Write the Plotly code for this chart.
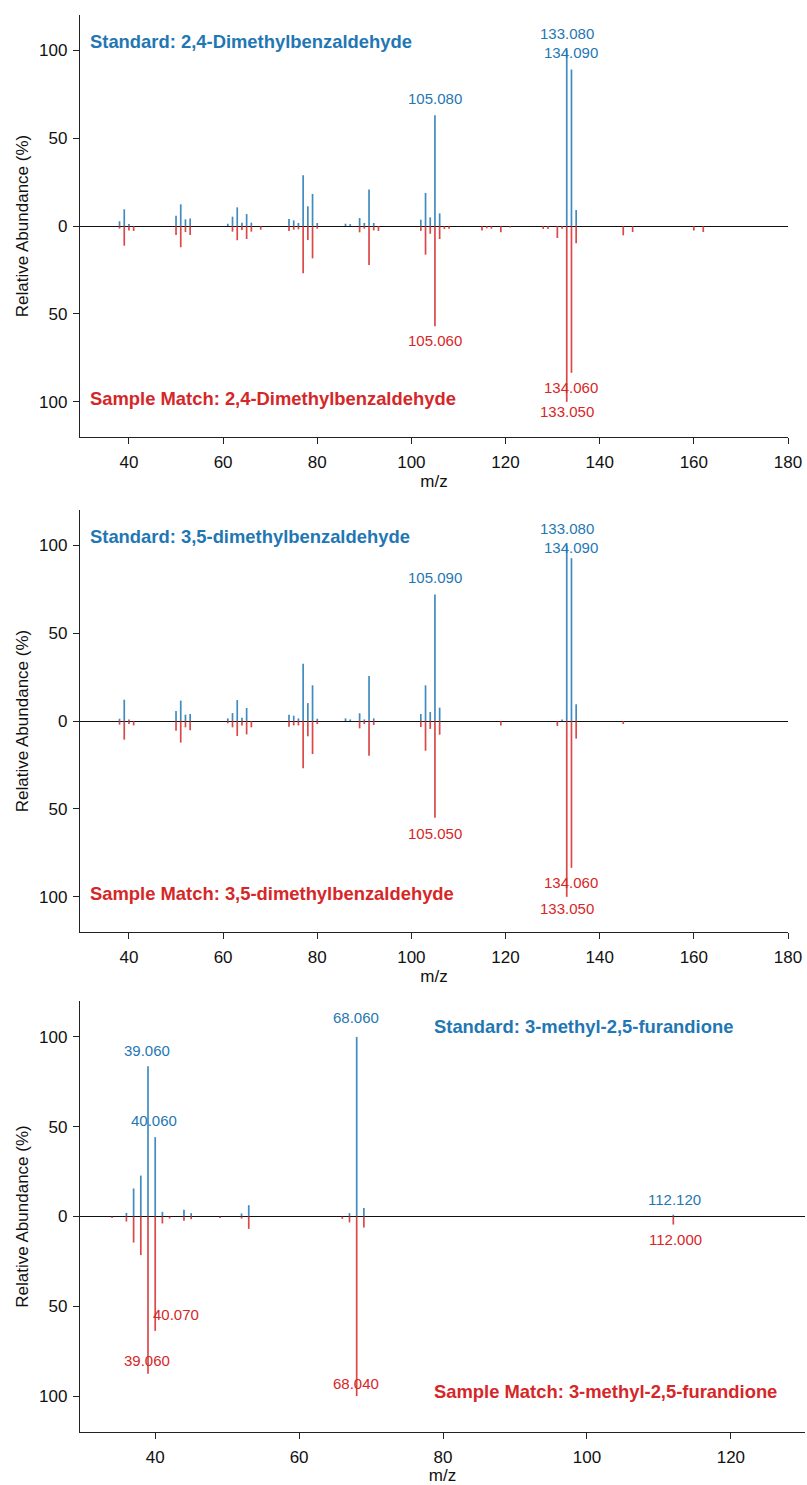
import plotly.graph_objects as go

# ---------------- data ----------------
p1_mz = [38, 39, 40, 41, 50, 51, 52, 53, 61, 62, 63, 64, 65, 66, 68, 74, 75, 76, 77, 78, 79, 80,
         86, 87, 89, 90, 91, 92, 93, 102, 103, 104, 105, 106, 107, 108, 115, 116, 117, 119, 121,
         128, 129, 131, 132, 133, 134, 135, 145, 147, 160, 162]
p1_std = [2.7, 9.5, 1.1, 0, 5.9, 12.3, 3.8, 4.2, 1.3, 5.3, 10.6, 1.9, 6.8, 1.9, 0, 4.0, 3.2, 1.7, 28.8, 11.2, 18.2, 1.7,
          1.3, 1.1, 4.5, 1.7, 20.8, 1.7, 0, 3.6, 18.8, 4.9, 63, 7.2, 0, 0, 0, 0, 0, 0, 0,
          0, 0, 0, 0, 100, 89, 9.1, 0, 0, 0, 0]
p1_smp = [1.5, 11.2, 2.5, 2.8, 5.1, 12.1, 3.4, 5.1, 0, 3.2, 8.1, 2.3, 7.4, 3.2, 2.1, 2.8, 2.1, 1.9, 26.9, 8.0, 18.4, 1.5,
          0, 0, 3.6, 1.5, 22.2, 2.5, 2.8, 2.8, 16.3, 4.4, 57, 7.4, 1.7, 1.5, 2.5, 1.3, 1.5, 3.6, 0.9,
          1.7, 1.7, 6.8, 1.5, 100, 83.5, 9.8, 5.3, 3.4, 2.5, 3.4]

p2_mz = [38, 39, 40, 41, 50, 51, 52, 53, 61, 62, 63, 64, 65, 66, 74, 75, 76, 77, 78, 79, 80,
         86, 87, 89, 90, 91, 92, 102, 103, 104, 105, 106, 119, 131, 132, 133, 134, 135, 145]
p2_std = [1.3, 12.1, 0.8, 0, 5.7, 11.6, 3.6, 4.0, 1.5, 4.5, 11.9, 1.9, 7.4, 0, 3.6, 3.0, 1.5, 32.6, 10.2, 20.3, 1.3,
          1.5, 0.9, 4.4, 0.9, 25.6, 1.5, 4.0, 20.3, 5.1, 72, 7.6, 0, 0, 0.9, 100, 92.6, 9.5, 0]
p2_smp = [2.1, 10.6, 1.7, 2.5, 5.5, 12.3, 3.6, 5.3, 1.3, 3.6, 8.5, 2.5, 7.6, 3.6, 3.2, 2.5, 2.5, 26.9, 8.7, 18.8, 1.7,
          0, 0, 4.2, 1.7, 19.7, 2.3, 3.4, 16.9, 4.5, 55, 7.8, 2.5, 2.8, 0, 100, 83.5, 10.0, 1.7]

p3_mz = [34, 36, 37, 38, 39, 40, 41, 42, 44, 45, 49, 52, 53, 66, 67, 68, 69, 112]
p3_std = [0, 2.0, 15.6, 22.8, 83.7, 44.2, 2.6, 0, 3.7, 1.9, 0, 1.7, 6.3, 0, 1.9, 100, 4.8, 1.0]
p3_smp = [0.9, 2.8, 14.5, 21.5, 87.5, 63.7, 3.9, 1.1, 2.4, 1.5, 0.9, 1.1, 6.9, 1.3, 3.3, 100, 6.1, 4.5]

# peak labels: (text, x, y) in data coords
p1_std_labels = [("105.080", 105, 72.7), ("133.080", 133, 109.7), ("134.090", 134, 98.9)]
p1_smp_labels = [("105.060", 105, -65.3), ("134.060", 134, -92.0), ("133.050", 133, -105.5)]
p2_std_labels = [("105.090", 105, 81.8), ("133.080", 133, 109.7), ("134.090", 134, 98.9)]
p2_smp_labels = [("105.050", 105, -64.2), ("134.060", 134, -92.0), ("133.050", 133, -106.5)]
p3_std_labels = [("39.060", 38.9, 92.5), ("40.060", 39.9, 53.5), ("68.060", 67.9, 111.0), ("112.120", 112.2, 9.5)]
p3_smp_labels = [("40.070", 42.9, -54.6), ("39.060", 38.9, -80.0), ("68.040", 67.9, -93.0), ("112.000", 112.3, -12.8)]

titles_std = ["Standard: 2,4-Dimethylbenzaldehyde", "Standard: 3,5-dimethylbenzaldehyde",
              "Standard: 3-methyl-2,5-furandione"]
titles_smp = ["Sample Match: 2,4-Dimethylbenzaldehyde", "Sample Match: 3,5-dimethylbenzaldehyde",
              "Sample Match: 3-methyl-2,5-furandione"]
title_pos = [(31.4, 105, -98), (31.4, 105, -98), (78.4, 106, -97.5)]

y_ticks = [-100, -50, 0, 50, 100]
y_ticktext = ["100", "50", "0", "50", "100"]

BLUE = "#1f77b4"
RED = "#d62728"
BLUE_BAR = "rgba(31,119,180,0.85)"
RED_BAR = "rgba(214,39,40,0.85)"
FONT = "Liberation Sans, Arial, sans-serif"

W, H = 807, 1485

panels = [
    dict(mz=p1_mz, std=p1_std, smp=p1_smp, sl=p1_std_labels, ml=p1_smp_labels,
         xr=[29.6, 180], xpx=(80, 788), ypx=(15, 437), xt=[40, 60, 80, 100, 120, 140, 160, 180]),
    dict(mz=p2_mz, std=p2_std, smp=p2_smp, sl=p2_std_labels, ml=p2_smp_labels,
         xr=[29.6, 180], xpx=(80, 788), ypx=(510, 932), xt=[40, 60, 80, 100, 120, 140, 160, 180]),
    dict(mz=p3_mz, std=p3_std, smp=p3_smp, sl=p3_std_labels, ml=p3_smp_labels,
         xr=[29.55, 130.3], xpx=(80, 805), ypx=(1001, 1432), xt=[40, 60, 80, 100, 120]),
]


def stems(xs, ys, sign):
    X, Y = [], []
    for x, y in zip(xs, ys):
        if y > 0:
            X += [x, x, None]
            Y += [0, sign * y, None]
    return X, Y


fig = go.Figure()
annotations = []
layout = {}
for i, p in enumerate(panels):
    n = "" if i == 0 else str(i + 1)
    xa, ya = "x" + n, "y" + n
    bx, by = stems(p["mz"], p["std"], 1)
    rx, ry = stems(p["mz"], p["smp"], -1)
    fig.add_trace(go.Scatter(x=bx, y=by, mode="lines", line=dict(color=BLUE_BAR, width=1.7),
                             xaxis=xa, yaxis=ya, showlegend=False, hoverinfo="skip"))
    fig.add_trace(go.Scatter(x=rx, y=ry, mode="lines", line=dict(color=RED_BAR, width=1.7),
                             xaxis=xa, yaxis=ya, showlegend=False, hoverinfo="skip"))
    for txt, x, y in p["sl"]:
        annotations.append(dict(text=txt, x=x, y=y, xref=xa, yref=ya, showarrow=False,
                                font=dict(color=BLUE, size=15, family=FONT)))
    for txt, x, y in p["ml"]:
        annotations.append(dict(text=txt, x=x, y=y, xref=xa, yref=ya, showarrow=False,
                                font=dict(color=RED, size=15, family=FONT)))
    tx, ty_s, ty_m = title_pos[i]
    annotations.append(dict(text="<b>" + titles_std[i] + "</b>", x=tx, y=ty_s, xref=xa, yref=ya,
                            showarrow=False, xanchor="left", font=dict(color=BLUE, size=18.4, family=FONT)))
    annotations.append(dict(text="<b>" + titles_smp[i] + "</b>", x=tx, y=ty_m, xref=xa, yref=ya,
                            showarrow=False, xanchor="left", font=dict(color=RED, size=18.4, family=FONT)))

    x0, x1 = p["xpx"]
    y0, y1 = p["ypx"]
    layout["xaxis" + n] = dict(domain=[x0 / W, x1 / W], range=p["xr"], anchor=ya, automargin=False,
                               showline=True, linecolor="#222", linewidth=1.3, mirror=False,
                               ticks="outside", ticklen=6, tickwidth=1.2, tickcolor="#222",
                               ticklabelstandoff=3,
                               tickvals=p["xt"], showgrid=False, zeroline=False,
                               tickfont=dict(size=17, color="#111", family=FONT),
                               title=dict(text="m/z", font=dict(size=17, color="#111", family=FONT), standoff=2))
    layout["yaxis" + n] = dict(domain=[1 - y1 / H, 1 - y0 / H], range=[-120, 120], anchor=xa, automargin=False,
                               showline=True, linecolor="#222", linewidth=1.3,
                               ticks="outside", ticklen=6, tickwidth=1.2, tickcolor="#222",
                               ticklabelstandoff=2,
                               tickvals=y_ticks, ticktext=y_ticktext, showgrid=False,
                               zeroline=True, zerolinecolor="#111", zerolinewidth=1.3,
                               tickfont=dict(size=17, color="#111", family=FONT),
                               title=dict(text="Relative Abundance (%)",
                                          font=dict(size=17, color="#111", family=FONT), standoff=6))

fig.update_layout(width=W, height=H, margin=dict(l=0, r=0, t=0, b=0),
                  plot_bgcolor="white", paper_bgcolor="white", annotations=annotations,
                  font=dict(family=FONT), **layout)

fig.write_html("out.html")
